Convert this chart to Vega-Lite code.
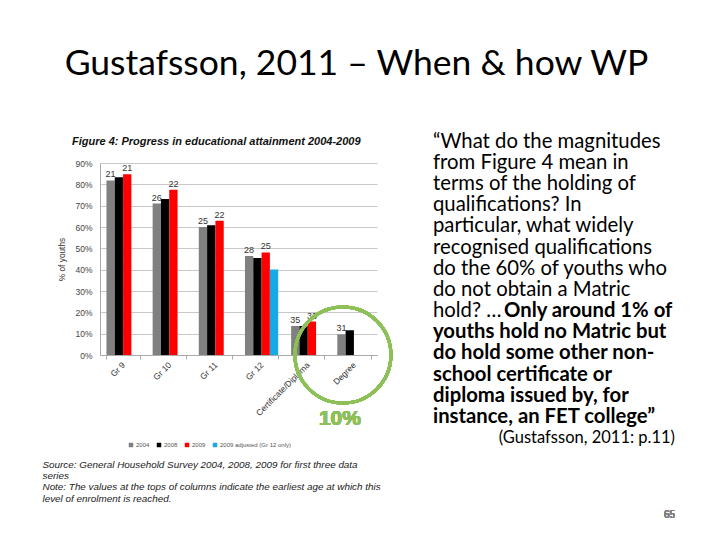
{
  "$schema": "https://vega.github.io/schema/vega-lite/v6.json",
  "background": "white",
  "padding": {"left": 42, "top": 47, "right": 0, "bottom": 0},
  "config": {
    "view": {"stroke": null},
    "concat": {"spacing": 36}
  },
  "title": {
    "text": "Gustafsson, 2011 – When & how WP",
    "font": "Lato",
    "fontSize": 35.5,
    "fontWeight": "normal",
    "color": "#000000",
    "anchor": "middle",
    "dx": -2,
    "offset": 49
  },
  "datasets": {
    "bars": [
      {"level": "Gr 9", "series": "2004", "value": 81.8, "label": "21"},
      {"level": "Gr 9", "series": "2008", "value": 83.3, "label": ""},
      {"level": "Gr 9", "series": "2009", "value": 84.7, "label": "21"},
      {"level": "Gr 10", "series": "2004", "value": 71.0, "label": "26"},
      {"level": "Gr 10", "series": "2008", "value": 73.1, "label": ""},
      {"level": "Gr 10", "series": "2009", "value": 77.5, "label": "22"},
      {"level": "Gr 11", "series": "2004", "value": 60.0, "label": "25"},
      {"level": "Gr 11", "series": "2008", "value": 60.8, "label": ""},
      {"level": "Gr 11", "series": "2009", "value": 62.9, "label": "22"},
      {"level": "Gr 12", "series": "2004", "value": 46.4, "label": "28"},
      {"level": "Gr 12", "series": "2008", "value": 45.5, "label": ""},
      {"level": "Gr 12", "series": "2009", "value": 48.1, "label": "25"},
      {"level": "Gr 12", "series": "2009 adjusted (Gr 12 only)", "value": 40.1, "label": ""},
      {"level": "Certificate/Diploma", "series": "2004", "value": 13.6, "label": "35"},
      {"level": "Certificate/Diploma", "series": "2008", "value": 13.6, "label": ""},
      {"level": "Certificate/Diploma", "series": "2009", "value": 15.7, "label": "33"},
      {"level": "Degree", "series": "2004", "value": 9.7, "label": "31"},
      {"level": "Degree", "series": "2008", "value": 11.6, "label": ""}
    ],
    "quote": [
      {"line": 1, "text": "“What do the magnitudes", "weight": "normal", "part": 1},
      {"line": 2, "text": "from Figure 4 mean in", "weight": "normal", "part": 1},
      {"line": 3, "text": "terms of the holding of", "weight": "normal", "part": 1},
      {"line": 4, "text": "qualifications? In", "weight": "normal", "part": 1},
      {"line": 5, "text": "particular, what widely", "weight": "normal", "part": 1},
      {"line": 6, "text": "recognised qualifications", "weight": "normal", "part": 1},
      {"line": 7, "text": "do the 60% of youths who", "weight": "normal", "part": 1},
      {"line": 8, "text": "do not obtain a Matric", "weight": "normal", "part": 1},
      {"line": 9, "text": "hold? …", "weight": "normal", "part": 1},
      {"line": 9, "text": "Only around 1% of", "weight": "bold", "part": 2},
      {"line": 10, "text": "youths hold no Matric but", "weight": "bold", "part": 1},
      {"line": 11, "text": "do hold some other non-", "weight": "bold", "part": 1},
      {"line": 12, "text": "school certificate or", "weight": "bold", "part": 1},
      {"line": 13, "text": "diploma issued by, for", "weight": "bold", "part": 1},
      {"line": 14, "text": "instance, an FET college”", "weight": "bold", "part": 1},
      {"line": 15, "text": "(Gustafsson, 2011: p.11)", "weight": "cite", "part": 1}
    ]
  },
  "hconcat": [
    {
      "width": 277,
      "height": 192,
      "data": {"name": "bars"},
      "title": {
        "text": "Figure 4: Progress in educational attainment 2004-2009",
        "font": "Liberation Sans",
        "fontSize": 11,
        "fontWeight": "bold",
        "fontStyle": "italic",
        "color": "#111111",
        "anchor": "start",
        "dx": 30,
        "offset": 12
      },
      "encoding": {
        "x": {
          "field": "level",
          "type": "nominal",
          "sort": ["Gr 9", "Gr 10", "Gr 11", "Gr 12", "Certificate/Diploma", "Degree"],
          "scale": {"paddingInner": 0.28, "paddingOuter": 0.14},
          "axis": {
            "title": [
              "Source: General Household Survey 2004, 2008, 2009 for first three data",
              "series",
              "Note: The values at the tops of columns indicate the earliest age at which this",
              "level of enrolment is reached."
            ],
            "titleX": -58,
            "titleY": 104,
            "titleAlign": "left",
            "titleBaseline": "top",
            "titleAngle": 0,
            "titleFont": "Liberation Sans",
            "titleFontSize": 9.9,
            "titleFontStyle": "italic",
            "titleFontWeight": "normal",
            "titleColor": "#222222",
            "titleLineHeight": 11.4,
            "labelAngle": -45,
            "labelAlign": "right",
            "labelBaseline": "middle",
            "labelFont": "Liberation Sans",
            "labelFontSize": 8.5,
            "labelColor": "#333333",
            "labelPadding": 4,
            "tickBand": "extent",
            "tickSize": 4,
            "tickColor": "#aaaaaa",
            "domainColor": "#aaaaaa"
          }
        },
        "xOffset": {
          "field": "series",
          "type": "nominal",
          "sort": ["2004", "2008", "2009", "2009 adjusted (Gr 12 only)"],
          "scale": {"paddingInner": 0, "paddingOuter": 0}
        },
        "y": {
          "field": "value",
          "type": "quantitative",
          "scale": {"domain": [0, 90], "nice": false},
          "axis": {
            "title": "% of youths",
            "titleFont": "Liberation Sans",
            "titleFontSize": 8.3,
            "titleFontWeight": "normal",
            "titleColor": "#333333",
            "titlePadding": 8,
            "values": [0, 10, 20, 30, 40, 50, 60, 70, 80, 90],
            "labelExpr": "datum.value + '%'",
            "labelFont": "Liberation Sans",
            "labelFontSize": 8.5,
            "labelColor": "#444444",
            "labelPadding": 8,
            "ticks": false,
            "domainColor": "#aaaaaa",
            "gridColor": "#c8c8c8"
          }
        }
      },
      "layer": [
        {
          "mark": {"type": "bar"},
          "encoding": {
            "color": {
              "field": "series",
              "type": "nominal",
              "scale": {
                "domain": ["2004", "2008", "2009", "2009 adjusted (Gr 12 only)"],
                "range": ["#808080", "#000000", "#ff0000", "#17a9e6"]
              },
              "legend": {
                "orient": "none",
                "legendX": 28,
                "legendY": 279,
                "direction": "horizontal",
                "title": null,
                "symbolType": "square",
                "symbolSize": 20,
                "symbolStrokeWidth": 0,
                "labelFont": "Liberation Sans",
                "labelFontSize": 6,
                "labelColor": "#555555",
                "labelOffset": 2,
                "columnPadding": 6
              }
            }
          }
        },
        {
          "transform": [{"filter": "datum.label != ''"}],
          "mark": {"type": "text", "baseline": "bottom", "dy": -1, "font": "Liberation Sans", "fontSize": 9, "color": "#333333"},
          "encoding": {"text": {"field": "label"}}
        },
        {
          "mark": {"type": "point", "shape": "circle", "filled": false, "size": 9216, "strokeWidth": 3, "color": "#8dc056", "opacity": 1, "xOffset": -11},
          "encoding": {
            "x": {"datum": "Degree", "type": "nominal"},
            "xOffset": null,
            "y": {"datum": 0, "type": "quantitative"}
          }
        },
        {
          "mark": {"type": "text", "text": "10%", "font": "Liberation Sans", "fontSize": 21, "fontWeight": "bold", "color": "#8dc056", "dx": -14, "dy": 64},
          "encoding": {
            "x": {"datum": "Degree", "type": "nominal"},
            "xOffset": null,
            "y": {"datum": 0, "type": "quantitative"}
          }
        }
      ]
    },
    {
      "width": 242,
      "height": 349,
      "data": {"name": "quote"},
      "encoding": {
        "x": {"datum": 0, "type": "quantitative", "scale": {"domain": [0, 1], "nice": false, "zero": false}, "axis": null},
        "y": {"field": "line", "type": "quantitative", "scale": {"domain": [2, 18.5], "reverse": true, "nice": false, "zero": false}, "axis": null}
      },
      "layer": [
        {
          "transform": [{"filter": "datum.weight == 'normal' && datum.part == 1"}],
          "mark": {"type": "text", "align": "left", "baseline": "middle", "font": "Lato", "fontSize": 20.3, "color": "#000000"},
          "encoding": {"text": {"field": "text"}}
        },
        {
          "transform": [{"filter": "datum.weight == 'bold' && datum.part == 1"}],
          "mark": {"type": "text", "align": "left", "baseline": "middle", "font": "Lato", "fontSize": 20.3, "fontWeight": "bold", "color": "#000000"},
          "encoding": {"text": {"field": "text"}}
        },
        {
          "transform": [{"filter": "datum.part == 2"}],
          "mark": {"type": "text", "align": "left", "baseline": "middle", "font": "Lato", "fontSize": 20.3, "fontWeight": "bold", "color": "#000000", "dx": 71},
          "encoding": {"text": {"field": "text"}}
        },
        {
          "transform": [{"filter": "datum.weight == 'cite'"}],
          "mark": {"type": "text", "align": "right", "baseline": "middle", "font": "Lato", "fontSize": 16.5, "color": "#000000"},
          "encoding": {
            "x": {"datum": 1, "type": "quantitative"},
            "text": {"field": "text"}
          }
        },
        {
          "mark": {"type": "text", "text": "65", "align": "right", "baseline": "middle", "font": "Liberation Sans", "fontSize": 10, "color": "#808080"},
          "encoding": {
            "x": {"datum": 1, "type": "quantitative"},
            "y": {"datum": 18.65, "type": "quantitative"}
          }
        }
      ]
    }
  ]
}
